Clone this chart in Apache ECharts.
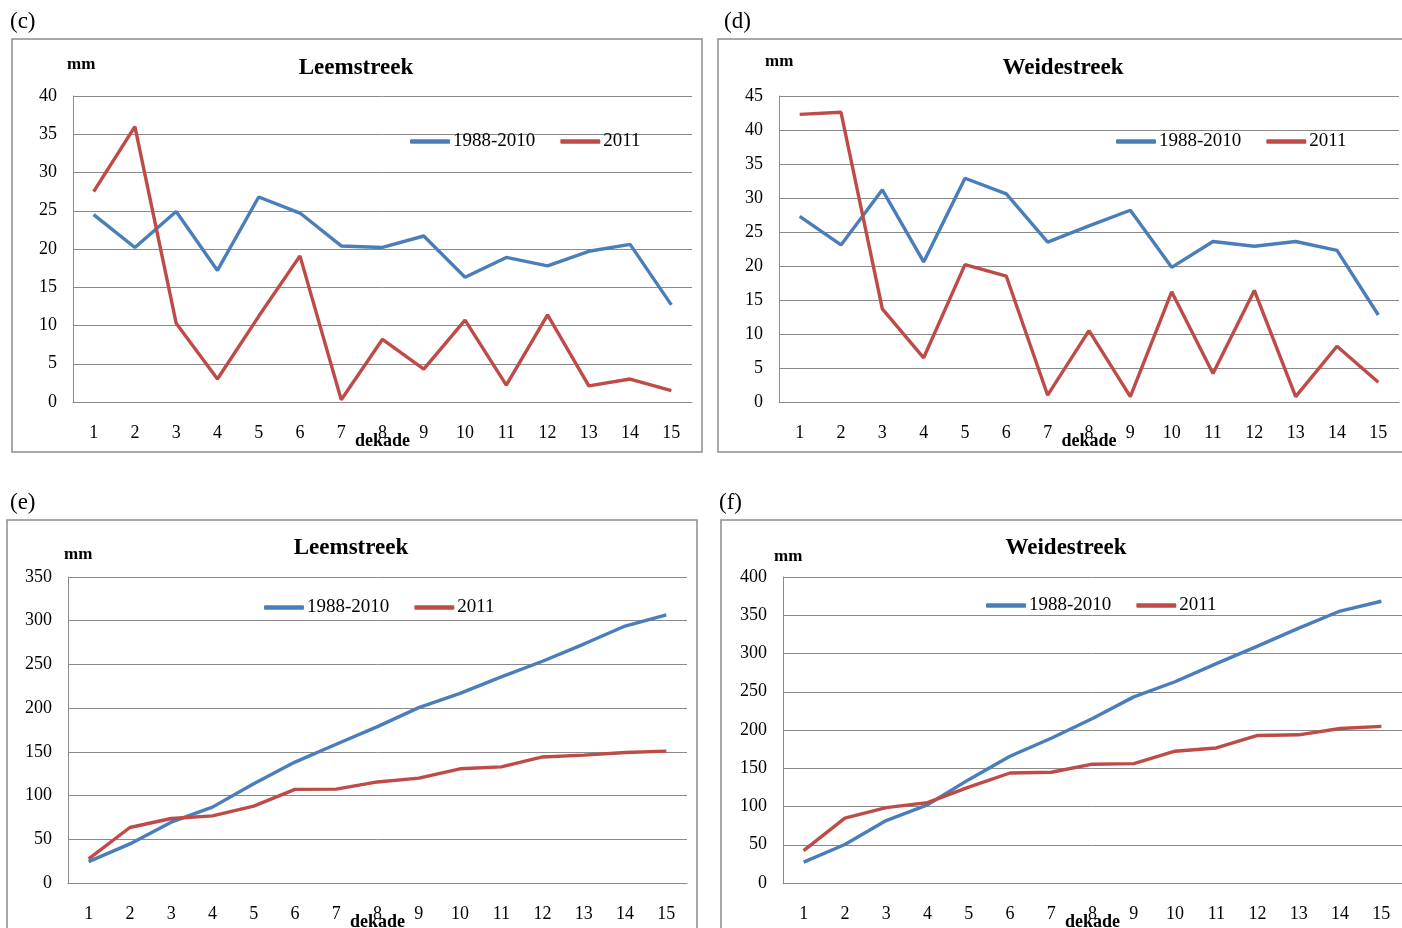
<!DOCTYPE html>
<html>
<head>
<meta charset="utf-8">
<script src="https://cdn.jsdelivr.net/npm/echarts@6/dist/echarts.min.js"></script>
<style>
  html, body { margin: 0; padding: 0; background: #fff; }
  #chart { width: 1402px; height: 928px; }
</style>
</head>
<body>
<div id="chart"></div>
<script>
// Dekaden (ten-day periods)
const dekaden = ['1','2','3','4','5','6','7','8','9','10','11','12','13','14','15'];
const seriesNames = ['1988-2010', '2011'];

// (c) Leemstreek, rainfall per dekade (mm)
const leemAvg  = [24.5, 20.2, 24.9, 17.2, 26.8, 24.7, 20.4, 20.2, 21.7, 16.3, 18.9, 17.8, 19.7, 20.6, 12.7];
const leem2011 = [27.5, 36.0, 10.3, 3.0, 11.2, 19.1, 0.3, 8.2, 4.3, 10.7, 2.2, 11.4, 2.1, 3.0, 1.5];

// (d) Weidestreek, rainfall per dekade (mm)
const weideAvg  = [27.3, 23.1, 31.2, 20.6, 32.9, 30.6, 23.5, 25.9, 28.2, 19.8, 23.6, 22.9, 23.6, 22.3, 12.8];
const weide2011 = [42.3, 42.6, 13.7, 6.5, 20.2, 18.5, 1.0, 10.5, 0.8, 16.2, 4.2, 16.4, 0.8, 8.2, 2.9];

// (e) Leemstreek, cumulative rainfall (mm)
const leemCumAvg  = [24.5, 44.7, 69.6, 86.8, 113.6, 138.3, 158.7, 178.9, 200.6, 216.9, 235.8, 253.6, 273.3, 293.9, 306.6];
const leemCum2011 = [27.5, 63.5, 73.8, 76.8, 88.0, 107.1, 107.4, 115.6, 119.9, 130.6, 132.8, 144.2, 146.3, 149.3, 150.8];

// (f) Weidestreek, cumulative rainfall (mm)
const weideCumAvg  = [27.3, 50.4, 81.6, 102.2, 135.1, 165.7, 189.2, 215.1, 243.3, 263.1, 286.7, 309.6, 333.2, 355.5, 368.3];
const weideCum2011 = [42.3, 84.9, 98.6, 105.1, 125.3, 143.8, 144.8, 155.3, 156.1, 172.3, 176.5, 192.9, 193.7, 201.9, 204.8];

const BLUE = '#4A7EBB';
const RED = '#BE4B48';
const GRIDLINE = '#8a8a8a';
const FONT = '"Liberation Serif", "Times New Roman", serif';

const panels = [
  { label: '(c)', title: 'Leemstreek',  avg: leemAvg,     cur: leem2011,     max: 40,  step: 5,
    grid: { left: 73,  top: 96,  width: 619, height: 306 }, titlePos: [356, 68],
    frame: { x: 12,  y: 39,  w: 690, h: 413 }, labelPos: [10, 22],  mm: [67, 65],  legend: [405, 140] },
  { label: '(d)', title: 'Weidestreek', avg: weideAvg,    cur: weide2011,    max: 45,  step: 5,
    grid: { left: 779, top: 96,  width: 620, height: 306 }, titlePos: [1063, 68],
    frame: { x: 718, y: 39,  w: 700, h: 413 }, labelPos: [724, 22], mm: [765, 62], legend: [1111, 140] },
  { label: '(e)', title: 'Leemstreek',  avg: leemCumAvg,  cur: leemCum2011,  max: 350, step: 50,
    grid: { left: 68,  top: 577, width: 619, height: 306 }, titlePos: [351, 548],
    frame: { x: 7,   y: 520, w: 690, h: 430 }, labelPos: [10, 503], mm: [64, 555], legend: [259, 606] },
  { label: '(f)', title: 'Weidestreek', avg: weideCumAvg, cur: weideCum2011, max: 400, step: 50,
    grid: { left: 783, top: 577, width: 619, height: 306 }, titlePos: [1066, 548],
    frame: { x: 721, y: 520, w: 700, h: 430 }, labelPos: [719, 503], mm: [774, 557], legend: [981, 604] }
];

const option = {
  animation: false,
  backgroundColor: '#fff',
  textStyle: { fontFamily: FONT },
  title: [], legend: [], grid: [], xAxis: [], yAxis: [], series: [], graphic: []
};

panels.forEach((p, i) => {
  const g = p.grid;
  option.grid.push(Object.assign({ containLabel: false, outerBoundsMode: 'none' }, g));

  // panel frame
  option.graphic.push({
    type: 'rect', silent: true, z: 0,
    shape: { x: p.frame.x, y: p.frame.y, width: p.frame.w, height: p.frame.h },
    style: { fill: 'none', stroke: '#8c8c8c', lineWidth: 1.5 }
  });
  // panel letter
  option.graphic.push({
    type: 'text', silent: true,
    x: p.labelPos[0], y: p.labelPos[1],
    style: { text: p.label, font: '23px ' + FONT, fill: '#000', verticalAlign: 'middle' }
  });
  // unit
  option.graphic.push({
    type: 'text', silent: true,
    x: p.mm[0], y: p.mm[1],
    style: { text: 'mm', font: 'bold 17px ' + FONT, fill: '#000', verticalAlign: 'middle' }
  });
  // panel title
  option.graphic.push({
    type: 'text', silent: true,
    x: p.titlePos[0], y: p.titlePos[1],
    style: { text: p.title, font: 'bold 23px ' + FONT, fill: '#000', align: 'center', verticalAlign: 'middle' }
  });

  option.legend.push({
    left: p.legend[0], top: p.legend[1] - 13,
    data: seriesNames,
    icon: 'roundRect', itemWidth: 40, itemHeight: 4.5, itemGap: 25,
    selectedMode: false,
    textStyle: { fontFamily: FONT, fontSize: 19, color: '#000', padding: [0, 0, 0, -2] }
  });

  option.xAxis.push({
    type: 'category', gridIndex: i, data: dekaden, boundaryGap: true,
    name: 'dekade', nameLocation: 'middle', nameGap: 30, nameMoveOverlap: false,
    nameTextStyle: { fontFamily: FONT, fontSize: 18, fontWeight: 'bold', color: '#000' },
    axisLine: { show: true, lineStyle: { color: GRIDLINE, width: 1 } },
    axisTick: { show: false },
    axisLabel: { margin: 22, fontFamily: FONT, fontSize: 18, color: '#000', interval: 0 }
  });

  option.yAxis.push({
    type: 'value', gridIndex: i, min: 0, max: p.max, interval: p.step,
    axisLine: { show: true, lineStyle: { color: GRIDLINE, width: 1 } },
    axisTick: { show: false },
    axisLabel: { margin: 16, fontFamily: FONT, fontSize: 18, color: '#000' },
    splitLine: { show: true, lineStyle: { color: GRIDLINE, width: 1 } }
  });

  option.series.push({
    name: seriesNames[0], type: 'line', xAxisIndex: i, yAxisIndex: i,
    data: p.avg, symbol: 'none', smooth: false,
    lineStyle: { color: BLUE, width: 3.4 }, itemStyle: { color: BLUE }, z: 3
  });
  option.series.push({
    name: seriesNames[1], type: 'line', xAxisIndex: i, yAxisIndex: i,
    data: p.cur, symbol: 'none', smooth: false,
    lineStyle: { color: RED, width: 3.4 }, itemStyle: { color: RED }, z: 4
  });
});

const chart = echarts.init(document.getElementById('chart'), null, { renderer: 'canvas' });
chart.setOption(option);
</script>
</body>
</html>
